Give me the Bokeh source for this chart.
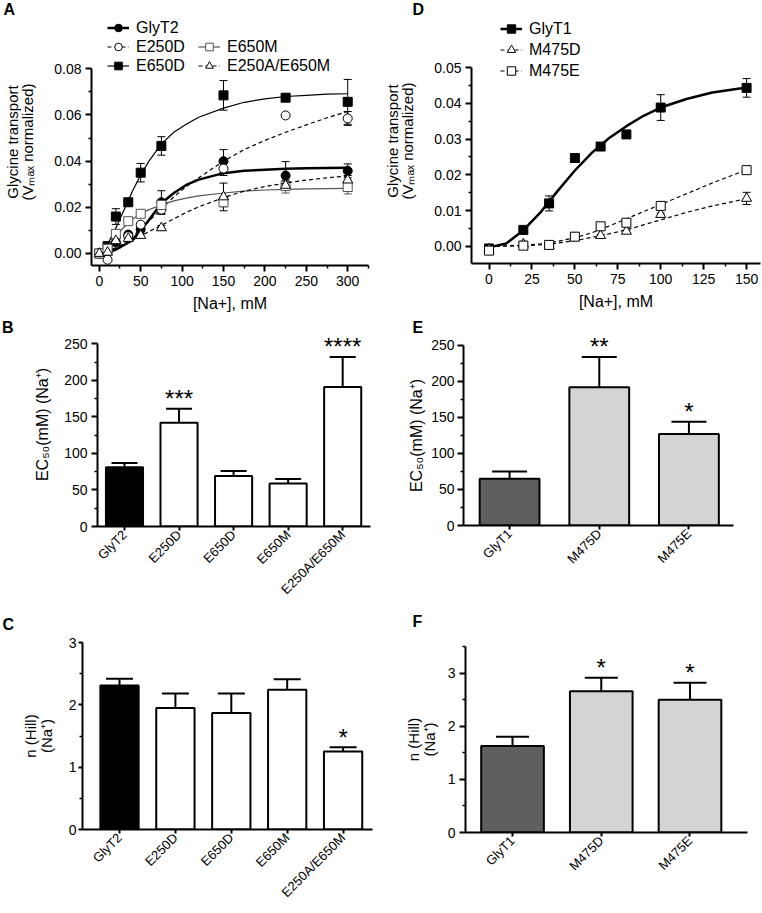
import math
import numpy as np
from bokeh.plotting import figure
from bokeh.models import (Range1d, FixedTicker, NumeralTickFormatter, Whisker, ColumnDataSource,
                          Legend, LegendItem, TeeHead)
from bokeh.layouts import column, row
from bokeh.embed import file_html
from bokeh.resources import INLINE
from bokeh.core.properties import value

FONT = "Liberation Sans"

# ---------------- Panel A data ----------------
a_conc = [0, 10, 20, 35, 50, 75, 150, 225, 300]
a_glyt2 = [0.0, 0.0005, 0.0048, 0.0082, 0.0105, 0.0222, 0.0400, 0.0338, 0.0358]
a_glyt2_err = [0, 0, 0.001, 0.001, 0.001, 0.005, 0.005, 0.006, 0.003]
a_e250d = [0.0, -0.0027, 0.0070, 0.0075, 0.0125, 0.0190, 0.0368, 0.0598, 0.0585]
a_e250d_err = [0, 0, 0.001, 0.001, 0.001, 0.002, 0.003, 0, 0.003]
a_e650d = [0.0, 0.0032, 0.0160, 0.0222, 0.0350, 0.0466, 0.0685, 0.0675, 0.0657]
a_e650d_err = [0, 0, 0.0034, 0.001, 0.004, 0.004, 0.0064, 0.001, 0.0097]
a_e650m = [0.0, 0.0020, 0.0085, 0.0140, 0.0172, 0.0210, 0.0222, 0.0292, 0.0288]
a_e650m_err = [0, 0, 0.001, 0.0015, 0.0015, 0.002, 0.002, 0.003, 0.003]
a_e250a = [0.0, 0.0005, 0.0055, 0.0065, 0.0078, 0.0111, 0.0245, 0.0295, 0.0318]
a_e250a_err = [0, 0, 0.001, 0.001, 0.001, 0.001, 0.006, 0.002, 0.002]

a_fit_x = [0, 10, 20, 30, 40, 50, 60, 75, 90, 105, 120, 150, 175, 200, 225, 250, 275, 300]
a_fit_glyt2 = [0, 0.0004, 0.0017, 0.0037, 0.0058, 0.0100, 0.0145, 0.0218, 0.0262, 0.0297, 0.0320,
               0.0348, 0.0358, 0.0363, 0.0367, 0.0369, 0.0370, 0.0371]
a_fit_e250d = [0, 0.0006, 0.0022, 0.0045, 0.0075, 0.0105, 0.0140, 0.0195, 0.0245, 0.0290, 0.0328,
               0.0400, 0.0450, 0.0490, 0.0525, 0.0557, 0.0588, 0.0615]
a_fit_e650d = [0, 0.0040, 0.0110, 0.0190, 0.0270, 0.0340, 0.0400, 0.0475, 0.0525, 0.0560, 0.0590,
               0.0630, 0.0655, 0.0670, 0.0680, 0.0685, 0.0690, 0.0692]
a_fit_e650m = [0, 0.0030, 0.0075, 0.0115, 0.0148, 0.0172, 0.0190, 0.0210, 0.0228, 0.0240, 0.0250,
               0.0262, 0.0270, 0.0275, 0.0278, 0.0280, 0.0281, 0.0282]
a_fit_e250a = [0, 0.0010, 0.0025, 0.0040, 0.0058, 0.0076, 0.0095, 0.0122, 0.0150, 0.0178, 0.0202,
               0.0242, 0.0270, 0.0290, 0.0305, 0.0318, 0.0328, 0.0336]
a_xticks = [0, 50, 100, 150, 200, 250, 300]
a_yticks = [0.00, 0.02, 0.04, 0.06, 0.08]

# ---------------- Panel D data ----------------
d_conc = [0, 20, 35, 50, 65, 80, 100, 150]
d_glyt1 = [-0.0006, 0.0046, 0.0120, 0.0247, 0.0279, 0.0313, 0.0388, 0.0443]
d_glyt1_err = [0.0003, 0.0003, 0.0021, 0.0005, 0.0005, 0.0004, 0.0036, 0.0026]
d_m475d = [-0.0008, 0.0006, 0.0001, 0.0024, 0.0030, 0.0042, 0.0089, 0.0134]
d_m475d_err = [0.0003, 0.0008, 0.0004, 0.0003, 0.0003, 0.0003, 0.0004, 0.0017]
d_m475e = [-0.0012, 0.0002, 0.0004, 0.0027, 0.0056, 0.0066, 0.0113, 0.0213]
d_m475e_err = [0.0003, 0.0004, 0.0004, 0.0003, 0.0003, 0.0003, 0.0005, 0.0005]

d_fit_x = [0, 10, 20, 30, 40, 50, 60, 70, 80, 90, 100, 115, 130, 150]
d_fit_glyt1 = [-0.0003, 0.0008, 0.0045, 0.0095, 0.0155, 0.0212, 0.0262, 0.0303, 0.0336, 0.0365,
               0.0388, 0.0412, 0.0430, 0.0444]
d_fit_m475d = [0, 0.0001, 0.0002, 0.0004, 0.0009, 0.0016, 0.0025, 0.0035, 0.0046, 0.0060,
               0.0074, 0.0095, 0.0113, 0.0133]
d_fit_m475e = [0, 0.0001, 0.0003, 0.0007, 0.0014, 0.0024, 0.0038, 0.0057, 0.0077, 0.0097,
               0.0117, 0.0147, 0.0177, 0.0214]
d_xticks = [0, 25, 50, 75, 100, 125, 150]
d_yticks = [0.00, 0.01, 0.02, 0.03, 0.04, 0.05]

# ---------------- Bar panels ----------------
b_names = ["GlyT2", "E250D", "E650D", "E650M", "E250A/E650M"]
b_ec50 = [81, 142, 69, 59, 191]
b_ec50_err = [6, 19, 7, 6, 41]
b_stars = ["", "***", "", "", "****"]

c_hill = [2.31, 1.95, 1.87, 2.24, 1.25]
c_hill_err = [0.11, 0.23, 0.31, 0.17, 0.07]
c_stars = ["", "", "", "", "*"]

e_names = ["GlyT1", "M475D", "M475E"]
e_ec50 = [65, 192, 127]
e_ec50_err = [10, 42, 17]
e_stars = ["", "**", "*"]

f_hill = [1.63, 2.66, 2.50]
f_hill_err = [0.17, 0.25, 0.32]
f_stars = ["", "*", "*"]

panel_letters = ["A", "B", "C", "D", "E", "F"]
ec50_title = "EC\u2085\u2080(mM) (Na\u207a)"
hill_title = "n (Hill)\n(Na\u207a)"
transport_title = "Glycine transport\n(V\u2098\u2090\u2093 normalized)"

glyt2_colors = ["black", "white", "white", "white", "white"]
glyt1_colors = ["#5f5f5f", "#d4d4d4", "#d4d4d4"]


def no_align(p):
    try:
        p.frame_align = False
    except Exception:
        pass


def base_fig(w, h, left, right, top, bottom, xr, yr):
    p = figure(width=w, height=h, x_range=Range1d(*xr), y_range=Range1d(*yr),
               output_backend="svg", toolbar_location=None,
               min_border_left=left, min_border_right=right,
               min_border_top=top, min_border_bottom=bottom)
    no_align(p)
    p.outline_line_color = None
    p.xgrid.visible = False
    p.ygrid.visible = False
    p.background_fill_color = "white"
    p.border_fill_color = "white"
    for ax in [p.xaxis[0], p.yaxis[0]]:
        ax.axis_line_width = 2
        ax.axis_line_color = "black"
        ax.major_tick_line_width = 2
        ax.minor_tick_line_width = 1.5
        ax.major_tick_out = 6
        ax.major_tick_in = 0
        ax.minor_tick_out = 3
        ax.minor_tick_in = 0
        ax.major_label_standoff = 4
        ax.major_label_text_font = FONT
        ax.major_label_text_font_size = "14px"
        ax.major_label_text_color = "black"
        ax.axis_label_text_font = FONT
        ax.axis_label_text_font_size = "16px"
        ax.axis_label_text_font_style = "normal"
        ax.axis_label_text_color = "black"
        ax.axis_label_text_line_height = 0.9
    return p


def blank_fig(w, h):
    s = figure(width=w, height=h, x_range=Range1d(0, w), y_range=Range1d(h, 0),
               output_backend="svg", toolbar_location=None, x_axis_type=None, y_axis_type=None,
               min_border_left=0, min_border_right=0, min_border_top=0, min_border_bottom=0)
    no_align(s)
    s.outline_line_color = None
    s.background_fill_color = "white"
    s.border_fill_color = "white"
    return s


def letter_strip(w, h, letter, x, top):
    s = blank_fig(w, h)
    s.text(x=[x], y=[top], text=[letter], text_align="left", text_baseline="top",
           text_font=value(FONT), text_font_size="16px", text_font_style="bold", text_color="black")
    return s


def add_err(p, xs, ys, es, color="black", head=8, lw=1):
    xs = np.array(xs, dtype=float)
    ys = np.array(ys, dtype=float)
    es = np.array(es, dtype=float)
    m = es > 0
    src = ColumnDataSource(dict(x=xs[m], lo=ys[m] - es[m], hi=ys[m] + es[m]))
    p.add_layout(Whisker(base="x", lower="lo", upper="hi", source=src, dimension="height",
                         line_color=color, line_width=lw,
                         upper_head=TeeHead(size=head, line_color=color, line_width=lw),
                         lower_head=TeeHead(size=head, line_color=color, line_width=lw)))


def series(p, fx, fy, xs, ys, es, marker, filled, color="black", dash="solid", lw=1.2):
    add_err(p, xs, ys, es, color=color)
    ln = p.line(fx, fy, line_color=color, line_width=lw, line_dash=dash)
    sc = p.scatter(xs, ys, marker=marker, size=9 if marker != "triangle" else 10,
                   fill_color=color if filled else "white", line_color=color, line_width=1)
    return [ln, sc]


def legend(items, loc, gh):
    return Legend(items=items, location=loc, orientation="vertical",
                  glyph_width=22, glyph_height=gh, label_height=gh, label_standoff=7,
                  spacing=0, padding=0, margin=0,
                  label_text_font=FONT, label_text_font_size="16px", label_text_color="black",
                  border_line_alpha=0, background_fill_alpha=0)


# ---------------- Panel A ----------------
pA = base_fig(380, 300, 84, 12, 0, 53, (-9.4, 325.1), (-0.0052, 0.1018))
rA1 = series(pA, a_fit_x, a_fit_glyt2, a_conc, a_glyt2, a_glyt2_err, "circle", True, lw=2.5)
rA2 = series(pA, a_fit_x, a_fit_e250d, a_conc, a_e250d, a_e250d_err, "circle", False, dash="4 3")
rA3 = series(pA, a_fit_x, a_fit_e650d, a_conc, a_e650d, a_e650d_err, "square", True)
rA4 = series(pA, a_fit_x, a_fit_e650m, a_conc, a_e650m, a_e650m_err, "square", False, color="#555555")
rA5 = series(pA, a_fit_x, a_fit_e250a, a_conc, a_e250a, a_e250a_err, "triangle", False, dash="4 3")
pA.add_layout(legend([LegendItem(label="GlyT2", renderers=rA1),
                      LegendItem(label="E250D", renderers=rA2),
                      LegendItem(label="E650D", renderers=rA3)], (16, 190), 19), "center")
pA.add_layout(legend([LegendItem(label="E650M", renderers=rA4),
                      LegendItem(label="E250A/E650M", renderers=rA5)], (107, 190), 19), "center")
pA.xaxis.ticker = FixedTicker(ticks=a_xticks, minor_ticks=[25, 75, 125, 175, 225, 275, 325])
pA.yaxis.ticker = FixedTicker(ticks=a_yticks, minor_ticks=[0.01, 0.03, 0.05, 0.07])
pA.yaxis.formatter = NumeralTickFormatter(format="0.00")
pA.yaxis.bounds = (-0.0052, 0.08)
pA.yaxis.axis_label = transport_title
pA.yaxis.axis_label_text_font_size = "15px"
pA.yaxis.axis_label_standoff = 15
pA.xaxis.axis_label = "[Na+], mM"
pA.xaxis.axis_label_standoff = 6

# ---------------- Panel D ----------------
pD = base_fig(382, 300, 83, 2, 0, 55, (-10.2, 158.1), (-0.0048, 0.0637))
rD1 = series(pD, d_fit_x, d_fit_glyt1, d_conc, d_glyt1, d_glyt1_err, "square", True, lw=2.5)
rD2 = series(pD, d_fit_x, d_fit_m475d, d_conc, d_m475d, d_m475d_err, "triangle", False, dash="4 3")
rD3 = series(pD, d_fit_x, d_fit_m475e, d_conc, d_m475e, d_m475e_err, "square", False, dash="4 3")
pD.add_layout(legend([LegendItem(label="GlyT1", renderers=rD1),
                      LegendItem(label="M475D", renderers=rD2),
                      LegendItem(label="M475E", renderers=rD3)], (29, 182), 21), "center")
pD.xaxis.ticker = FixedTicker(ticks=d_xticks, minor_ticks=[12.5, 37.5, 62.5, 87.5, 112.5, 137.5])
pD.yaxis.ticker = FixedTicker(ticks=d_yticks, minor_ticks=[0.005, 0.015, 0.025, 0.035, 0.045])
pD.yaxis.formatter = NumeralTickFormatter(format="0.00")
pD.yaxis.bounds = (-0.0048, 0.05)
pD.yaxis.axis_label = transport_title
pD.yaxis.axis_label_text_font_size = "15px"
pD.yaxis.axis_label_standoff = 15
pD.xaxis.axis_label = "[Na+], mM"
pD.xaxis.axis_label_standoff = 6


def bar_panel(p, names, vals, errs, stars, colors, bw, cap, yticks, yminor, label, std):
    xs = list(range(len(names)))
    tops = [v + e for v, e in zip(vals, errs)]
    src = ColumnDataSource(dict(x=xs, lo=vals, hi=tops))
    p.add_layout(Whisker(base="x", lower="lo", upper="hi", source=src, dimension="height",
                         line_color="black", line_width=2, lower_head=None,
                         upper_head=TeeHead(size=cap, line_color="black", line_width=2)))
    p.vbar(x=xs, top=vals, bottom=0, width=bw, fill_color=colors, line_color="black", line_width=2)
    p.text(x=xs, y=tops, text=stars, text_align="center", text_baseline="alphabetic",
           y_offset=-10, text_font=value(FONT), text_font_size="24px", text_color="black")
    p.xaxis.ticker = FixedTicker(ticks=xs)
    p.xaxis.major_label_overrides = {i: n for i, n in enumerate(names)}
    p.xaxis.major_label_orientation = math.pi / 4
    p.xaxis.major_label_text_font_size = "13px"
    p.xaxis.major_tick_out = 4
    p.xaxis.major_label_standoff = 2
    p.yaxis.ticker = FixedTicker(ticks=yticks, minor_ticks=yminor)
    if label is not None:
        p.yaxis.axis_label = label
        p.yaxis.axis_label_standoff = std


# ---------------- Panel B (letter column at its left) ----------------
pB = base_fig(366, 294, 83, 10, 4, 86, (-0.495, 4.51), (0, 279.1))
bar_panel(pB, b_names, b_ec50, b_ec50_err, b_stars, glyt2_colors, 0.68, 26,
          [0, 50, 100, 150, 200, 250], [25, 75, 125, 175, 225], ec50_title, 10)
pB.yaxis.bounds = (0, 250)
sB = letter_strip(14, 294, panel_letters[1], 1.5, 0)

# ---------------- Panel E (letter and axis title in a side strip) ----------------
pE = base_fig(334, 294, 34, 29, 4, 87, (-0.514, 2.497), (0, 281.9))
bar_panel(pE, e_names, e_ec50, e_ec50_err, e_stars, glyt1_colors, 0.667, 35,
          [0, 50, 100, 150, 200, 250], [25, 75, 125, 175, 225], None, 0)
pE.yaxis.bounds = (0, 250)
pE.yaxis.major_label_standoff = 3
sE = letter_strip(48, 294, panel_letters[4], 32, 0)
sE.text(x=[35.5], y=[117], text=[ec50_title], angle=math.pi / 2, text_align="center",
        text_baseline="middle", text_font=value(FONT), text_font_size="16px", text_color="black")

# ---------------- Panel C ----------------
pC = base_fig(380, 280, 82, 8, 9, 84, (-0.662, 4.526), (0, 3.0))
bar_panel(pC, b_names, c_hill, c_hill_err, c_stars, glyt2_colors, 0.685, 27,
          [0, 1, 2, 3], [0.5, 1.5, 2.5], hill_title, 11)
pC.yaxis.major_tick_out = 4
pC.yaxis.major_label_standoff = 2
pC.yaxis.axis_label_text_font_size = "15px"

# ---------------- Panel F ----------------
pF = base_fig(382, 283, 85, 15, 16, 81, (-0.53, 2.648), (0, 3.5))
bar_panel(pF, e_names, f_hill, f_hill_err, f_stars, glyt1_colors, 0.706, 33,
          [0, 1, 2, 3], [0.5, 1.5, 2.5, 3.5], hill_title, 7)
pF.yaxis.axis_label_text_font_size = "15px"

# ---------------- Panel letters (strips above panels) ----------------
sA = letter_strip(380, 18, panel_letters[0], 3, 0)
sC = letter_strip(380, 21, panel_letters[2], 2, 3)
sD = letter_strip(382, 18, panel_letters[3], 32, 0)
sF = letter_strip(382, 18, panel_letters[5], 32, 0)

left = column(sA, pA, row(sB, pB, spacing=0), sC, pC, spacing=0)
right = column(sD, pD, row(sE, pE, spacing=0), sF, pF, spacing=0)
layout = row(left, right, spacing=0)

with open("out.html", "w") as fh:
    fh.write(file_html(layout, INLINE))
